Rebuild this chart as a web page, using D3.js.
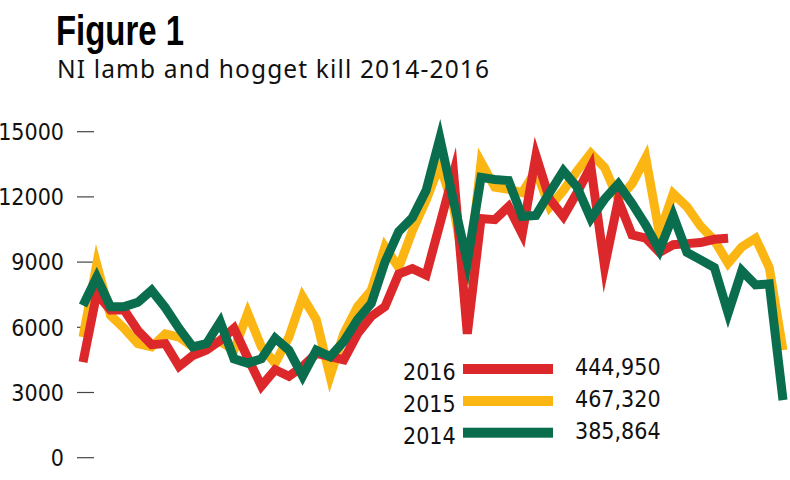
<!DOCTYPE html>
<html>
<head>
<meta charset='utf-8'>
<style>
body { margin: 0; background: #fff; }
svg { display: block; }
.tick-label, .legend text { font-family: 'Liberation Sans Narrow', 'DejaVu Sans Condensed', sans-serif; font-size: 23px; fill: #111; }
</style>
</head>
<body>
<svg width="790" height="480"></svg>
<script src="https://d3js.org/d3.v7.min.js"></script>
<script>

// weekly kill
var weeks = d3.range(1, 53);

var kill2014 = [7000, 8300, 6950, 6950, 7150, 7700, 6900, 5950, 5100, 5250,
  6250, 4550, 4350, 4550, 5500, 4950, 3750, 4950, 4650, 5350,
  6350, 7100, 9000, 10400, 11050, 12300, 14700, 11800, 9000, 12900,
  12800, 12750, 11100, 11150, 12200, 13200, 12450, 11000, 11900, 12600,
  11700, 10700, 9550, 11150, 9450, 9100, 8750, 6650, 8600, 7950,
  8000, 2650];

var kill2015 = [5550, 8900, 6550, 5950, 5250, 5100, 5700, 5550, 5100, 5200,
  5350, 4950, 6650, 5100, 4350, 5550, 7400, 6350, 3750, 5700,
  6950, 7700, 9700, 8750, 10450, 11850, 13500, 11500, 8000, 13600,
  12450, 12350, 12200, 13200, 11550, 12300, 13200, 14000, 13350, 11900,
  12600, 13800, 10300, 12150, 11550, 10650, 10000, 8950, 9700, 10100,
  8750, 4950];

var kill2016 = [4400, 7550, 6800, 6800, 5850, 5200, 5250, 4200, 4700, 4950,
  5400, 5950, 4600, 3300, 4050, 3750, 4200, 4800, 4650, 4500,
  5700, 6500, 6950, 8450, 8700, 8400, 10750, 13100, 5700, 11000,
  10950, 11550, 10300, 13900, 11900, 11100, 12200, 13400, 8800, 11850,
  10250, 10100, 9450, 9800, 9850, 9900, 10050, 10100];

var yTicks = [0, 3000, 6000, 9000, 12000, 15000];

var legendYears = ['2016', '2015', '2014'];
var legendTotals = ['444,950', '467,320', '385,864'];
var legendColors = ['#dc272b', '#fcb614', '#0a6e4e'];

var svg = d3.select('svg');

var x = d3.scaleLinear().domain([1, 52]).range([83, 783]);
var y = d3.scaleLinear().domain([0, 15000]).range([457.7, 131.7]);

// title
svg.append('text')
  .attr('x', 56).attr('y', 45)
  .attr('textLength', 128).attr('lengthAdjust', 'spacingAndGlyphs')
  .style('font-family', "'Liberation Sans Narrow', sans-serif")
  .style('font-weight', 'bold')
  .style('font-size', '42px')
  .text('Figure 1');

svg.append('text')
  .attr('x', 57).attr('y', 78)
  .attr('textLength', 432)
  .style('font-family', "'Noto Sans', sans-serif")
  .style('font-size', '24.5px')
  .style('fill', '#111')
  .text('NI lamb and hogget kill 2014-2016');

// y axis: just labels and short dashes, no domain line
var axis = svg.append('g');
axis.selectAll('line')
  .data(yTicks)
  .enter().append('line')
    .attr('x1', 77).attr('x2', 94)
    .attr('y1', d => y(d)).attr('y2', d => y(d))
    .attr('stroke', '#444')
    .attr('stroke-width', 1.2);
axis.selectAll('text')
  .data(yTicks)
  .enter().append('text')
    .attr('class', 'tick-label')
    .attr('x', 64)
    .attr('y', d => y(d))
    .attr('dy', '0.36em')
    .attr('text-anchor', 'end')
    .text(d => d);

var line = d3.line()
  .x((d, i) => x(weeks[i]))
  .y(d => y(d));

// drawing order: 2015 under 2016, 2014 on top
var series = [
  {values: kill2015, col: legendColors[1]},
  {values: kill2016, col: legendColors[0]},
  {values: kill2014, col: legendColors[2]}
];

svg.append('g')
  .selectAll('path')
  .data(series)
  .enter().append('path')
    .attr('d', d => line(d.values))
    .attr('fill', 'none')
    .attr('stroke', d => d.col)
    .attr('stroke-width', 9)
    .attr('stroke-linejoin', 'miter')
    .attr('stroke-miterlimit', 6);

// legend
var legend = svg.append('g').attr('class', 'legend');
var rowY = [369, 401, 432.7];

legend.selectAll('rect')
  .data(legendColors)
  .enter().append('rect')
    .attr('x', 463).attr('width', 90)
    .attr('y', (d, i) => rowY[i] - 5).attr('height', 10)
    .attr('fill', d => d);

legend.selectAll('text.year')
  .data(legendYears)
  .enter().append('text')
    .attr('class', 'year')
    .attr('x', 403)
    .attr('y', (d, i) => rowY[i] + 11)
    .text(d => d);

legend.selectAll('text.total')
  .data(legendTotals)
  .enter().append('text')
    .attr('class', 'total')
    .attr('x', 575)
    .attr('y', (d, i) => rowY[i] + 6)
    .text(d => d);

</script>
</body>
</html>
